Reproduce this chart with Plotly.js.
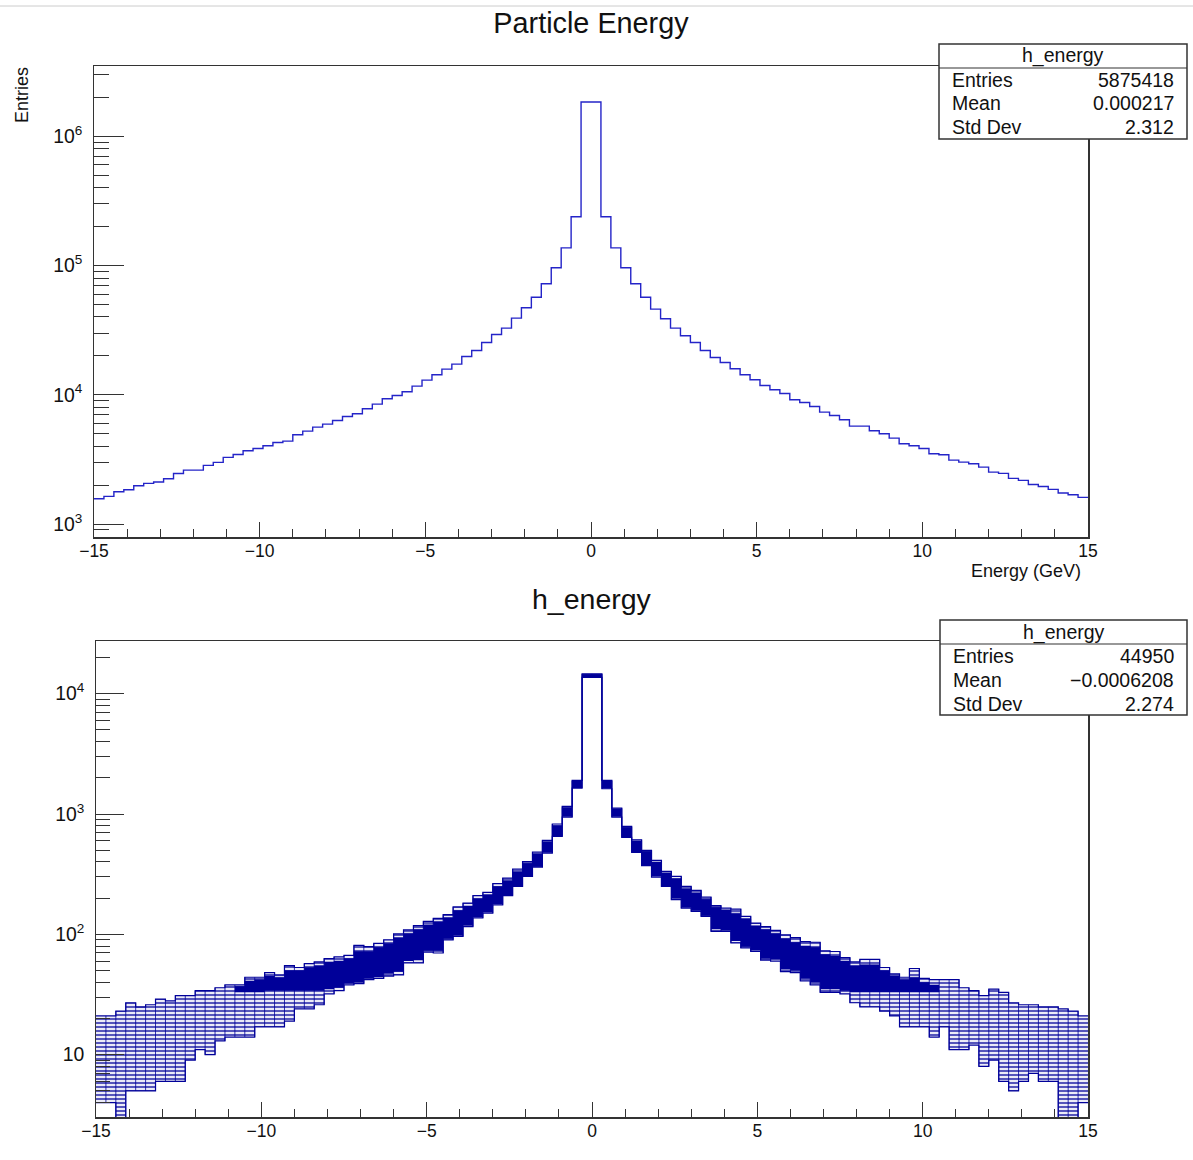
<!DOCTYPE html>
<html>
<head>
<meta charset="utf-8">
<script src="https://cdn.plot.ly/plotly-3.0.1.min.js"></script>
<style>
  html, body { margin: 0; padding: 0; background: #ffffff; }
  #chart { width: 1193px; height: 1160px; }
</style>
</head>
<body>
<div id="chart"></div>
<script>
// ---------------- DATA ----------------
// Binning shared by both histograms (100 bins from -15 to 15 GeV)
const nBins = 100;
const xMin = -15;
const xMax = 15;

// Top panel: "Particle Energy" (h_energy, all events)
const energyCounts = [
  1570, 1637, 1778, 1842, 1978, 2063, 2113, 2241, 2464, 2616,
  2616, 2842, 2999, 3278, 3456, 3690, 3846, 4034, 4280, 4384,
  4906, 5238, 5623, 5933, 6332, 6800, 7131, 7795, 8470, 9314,
  9881, 10549, 11670, 12985, 14279, 15790, 17265, 19790, 22020, 25390,
  29280, 32770, 39150, 47080, 56750, 72280, 95940, 136800, 238200, 1837000,
  1837000, 238200, 136800, 95940, 72280, 56750, 45970, 38690, 32770, 28590,
  25390, 22020, 19440, 17780, 15880, 14280, 13060, 11810, 10930, 10240,
  9148, 8723, 8125, 7345, 6922, 6408, 5723, 5723, 5268, 4993,
  4624, 4180, 4034, 3846, 3498, 3437, 3125, 3016, 2928, 2759,
  2524, 2465, 2255, 2176, 2026, 1955, 1854, 1737, 1686, 1608
];

// Bottom panel: many overlaid h_energy histograms – per-bin spread
const subLow = [
  4, 4, 3, 5, 5, 5, 6, 6, 6, 9,
  11, 10, 13, 14, 14, 14, 17, 17, 17, 19,
  24, 24, 26, 32, 34, 38, 39, 42, 43, 45,
  46, 58, 58, 71, 70, 90, 96, 116, 137, 150,
  176, 210, 250, 303, 362, 474, 652, 944, 1644, 13650,
  13650, 1622, 944, 639, 480, 372, 299, 250, 194, 165,
  155, 141, 106, 106, 85, 77, 72, 61, 60, 49,
  48, 41, 38, 33, 33, 32, 27, 25, 25, 23,
  21, 17, 17, 17, 14, 17, 11, 11, 12, 8,
  9, 6, 5, 6, 7, 6, 6, 3, 3, 4
];
const subHigh = [
  21, 21, 23, 27, 25, 26, 29, 28, 31, 31,
  34, 34, 36, 38, 38, 44, 44, 48, 46, 55,
  53, 57, 59, 63, 65, 67, 81, 79, 84, 90,
  101, 109, 118, 128, 136, 146, 169, 182, 210, 223,
  264, 294, 349, 403, 483, 604, 826, 1156, 1901, 14600,
  14600, 1904, 1121, 789, 611, 499, 412, 334, 303, 250,
  232, 204, 173, 165, 162, 141, 124, 116, 108, 99,
  94, 87, 86, 73, 72, 64, 59, 62, 62, 53,
  47, 44, 52, 43, 42, 42, 42, 36, 34, 31,
  35, 33, 27, 26, 26, 25, 25, 24, 23, 21
];
// Dense (visually solid) core of the overlaid histograms
const coreLow = [
  null, null, null, null, null, null, null, null, null, null,
  null, null, null, null, 33, 33, 33, 34, 34, 34,
  34, 34, 34, 35, 36, 39, 40, 43, 44, 47,
  49, 60, 61, 73, 73, 92, 98, 118, 139, 152,
  178, 212, 252, 305, 365, 476, 655, 948, 1648, 13680,
  13680, 1630, 948, 642, 483, 375, 302, 252, 200, 168,
  158, 143, 110, 108, 88, 79, 74, 63, 62, 51,
  50, 43, 40, 35, 35, 34, 33, 33, 33, 33,
  33, 33, 33, 33, 33, null, null, null, null, null,
  null, null, null, null, null, null, null, null, null, null
];
const coreHigh = [
  null, null, null, null, null, null, null, null, null, null,
  null, null, null, null, 37, 41, 42, 45, 44, 50,
  50, 53, 55, 59, 60, 63, 72, 72, 78, 84,
  94, 102, 110, 120, 128, 138, 158, 172, 198, 212,
  250, 280, 330, 390, 470, 590, 805, 1130, 1880, 14500,
  14500, 1880, 1105, 778, 600, 490, 400, 325, 290, 240,
  222, 196, 168, 160, 150, 134, 118, 110, 102, 92,
  86, 80, 78, 68, 66, 60, 55, 56, 56, 50,
  45, 42, 44, 40, 38, null, null, null, null, null,
  null, null, null, null, null, null, null, null, null, null
];

// Stats boxes
const statsTop = { name: 'h_energy', labels: ['Entries', 'Mean', 'Std Dev'], values: ['5875418', '0.000217', '2.312'] };
const statsBottom = { name: 'h_energy', labels: ['Entries', 'Mean', 'Std Dev'], values: ['44950', '\u22120.0006208', '2.274'] };

// ---------------- HELPERS ----------------
const W = 1193, H = 1160;
const px = x => x / W;
const py = y => 1 - y / H;
const binW = (xMax - xMin) / nBins;
const edges = [];
for (let i = 0; i <= nBins; i++) edges.push(+(xMin + i * binW).toFixed(6));

function stepTrace(vals, i0, i1, xa, ya, extra) {
  const xs = [], ys = [];
  for (let i = i0; i <= i1; i++) { xs.push(edges[i]); ys.push(vals[i]); }
  xs.push(edges[i1 + 1]); ys.push(vals[i1]);
  return Object.assign({ type: 'scatter', mode: 'lines', x: xs, y: ys, xaxis: xa, yaxis: ya,
    line: { shape: 'hv', width: 1, color: '#000099' }, hoverinfo: 'skip', showlegend: false }, extra || {});
}

const FONT = 'Liberation Sans, Arial, Helvetica, sans-serif';
const AX = '#333333';
const BLUE = '#000099';

// ---------------- TRACES ----------------
const traces = [];
// top histogram
traces.push(stepTrace(energyCounts, 0, nBins - 1, 'x', 'y', { line: { shape: 'hv', width: 1.4, color: '#2424c8' } }));

// bottom: sparse band (horizontal-line texture, like many integer-level step lines)
traces.push(stepTrace(subLow, 0, nBins - 1, 'x2', 'y2', { line: { shape: 'hv', width: 0, color: 'rgba(0,0,0,0)' } }));
traces.push(stepTrace(subHigh, 0, nBins - 1, 'x2', 'y2', {
  line: { shape: 'hv', width: 0, color: 'rgba(0,0,0,0)' },
  fill: 'tonexty', fillcolor: 'rgba(0,0,153,0.10)',
  fillpattern: { shape: '-', fgcolor: BLUE, bgcolor: 'rgba(0,0,153,0.08)', size: 4, solidity: 0.32 }
}));

// vertical bin-edge segments spanning the band
{
  const xs = [], ys = [];
  for (let i = 0; i < nBins - 1; i++) {
    const lo = Math.min(subLow[i], subLow[i + 1]);
    const hi = Math.max(subHigh[i], subHigh[i + 1]);
    xs.push(edges[i + 1], edges[i + 1], null);
    ys.push(lo, hi, null);
  }
  traces.push({ type: 'scatter', mode: 'lines', x: xs, y: ys, xaxis: 'x2', yaxis: 'y2',
    line: { width: 1, color: 'rgba(0,0,153,0.8)' }, hoverinfo: 'skip', showlegend: false });
}

// dense core
{
  let a = coreLow.findIndex(v => v !== null);
  let b = coreLow.length - 1 - [...coreLow].reverse().findIndex(v => v !== null);
  traces.push(stepTrace(coreLow, a, b, 'x2', 'y2', { line: { shape: 'hv', width: 0, color: 'rgba(0,0,0,0)' } }));
  traces.push(stepTrace(coreHigh, a, b, 'x2', 'y2', { line: { shape: 'hv', width: 0.5, color: BLUE }, fill: 'tonexty', fillcolor: BLUE }));
}
// outer outlines of the overlaid histograms
traces.push(stepTrace(subLow, 0, nBins - 1, 'x2', 'y2', { line: { shape: 'hv', width: 1.2, color: BLUE } }));
traces.push(stepTrace(subHigh, 0, nBins - 1, 'x2', 'y2', { line: { shape: 'hv', width: 1.2, color: BLUE } }));

// ---------------- LAYOUT ----------------
function xAxis(domain, anchor) {
  return {
    domain: domain, anchor: anchor, range: [xMin, xMax], autorange: false,
    tick0: 0, dtick: 5, ticks: 'inside', ticklen: 15, tickwidth: 1, tickcolor: AX,
    minor: { ticks: 'inside', ticklen: 8, dtick: 1, tickwidth: 1, tickcolor: AX },
    showline: true, mirror: true, linecolor: AX, linewidth: 1.5,
    showgrid: false, zeroline: false, automargin: false, fixedrange: true,
    ticklabelstandoff: -3,
    tickfont: { family: FONT, size: 17.5, color: '#111' }
  };
}
function yAxis(domain, anchor, range, tlen) {
  return {
    domain: domain, anchor: anchor, type: 'log', range: range, autorange: false,
    dtick: 1, exponentformat: 'power', ticks: 'inside', ticklen: tlen, tickwidth: 1, tickcolor: AX,
    minor: { ticks: 'inside', ticklen: Math.round(tlen / 2), dtick: 'D1', tickwidth: 1, tickcolor: AX },
    showline: true, mirror: true, linecolor: AX, linewidth: 1.5,
    showgrid: false, zeroline: false, automargin: false, fixedrange: true,
    ticklabelstandoff: 7,
    tickfont: { family: FONT, size: 15.5, color: '#111' }
  };
}

const shapes = [
  { type: 'line', xref: 'paper', yref: 'paper', x0: 0, x1: 1, y0: py(6), y1: py(6), line: { color: '#cccccc', width: 1 } }
];
const annotations = [];

function statsBox(s, x0, x1, y0, yDiv, y1, rows) {
  shapes.push({ type: 'rect', xref: 'paper', yref: 'paper', x0: px(x0), x1: px(x1), y0: py(y1), y1: py(y0),
    fillcolor: '#ffffff', line: { color: '#333333', width: 1.5 }, layer: 'above' });
  shapes.push({ type: 'line', xref: 'paper', yref: 'paper', x0: px(x0), x1: px(x1), y0: py(yDiv), y1: py(yDiv),
    line: { color: '#333333', width: 1.2 }, layer: 'above' });
  annotations.push({ xref: 'paper', yref: 'paper', x: px((x0 + x1) / 2), y: py((y0 + yDiv) / 2), text: s.name,
    showarrow: false, xanchor: 'center', yanchor: 'middle', font: { family: FONT, size: 19.5, color: '#111' } });
  for (let i = 0; i < s.labels.length; i++) {
    annotations.push({ xref: 'paper', yref: 'paper', x: px(x0 + 11), y: py(rows[i]), text: s.labels[i],
      showarrow: false, xanchor: 'left', yanchor: 'middle', font: { family: FONT, size: 19.5, color: '#111' } });
    annotations.push({ xref: 'paper', yref: 'paper', x: px(x1 - 11), y: py(rows[i]), text: s.values[i],
      showarrow: false, xanchor: 'right', yanchor: 'middle', font: { family: FONT, size: 19.5, color: '#111' } });
  }
}
statsBox(statsTop, 939, 1187, 44, 68, 139, [80, 103, 127]);
statsBox(statsBottom, 940, 1187, 620, 644, 715, [656, 680, 704]);

// panel titles & axis titles
annotations.push({ xref: 'paper', yref: 'paper', x: px(592), y: py(599), text: 'h_energy', showarrow: false,
  xanchor: 'center', yanchor: 'middle', font: { family: FONT, size: 28.5, color: '#111' } });
annotations.push({ xref: 'paper', yref: 'paper', x: px(22), y: py(65), text: 'Entries', showarrow: false,
  textangle: -90, xanchor: 'center', yanchor: 'top', font: { family: FONT, size: 18, color: '#111' } });
annotations.push({ xref: 'paper', yref: 'paper', x: px(1083), y: py(571), text: 'Energy (GeV)', showarrow: false,
  xanchor: 'right', yanchor: 'middle', font: { family: FONT, size: 18, color: '#111' } });

const layout = {
  width: W, height: H,
  margin: { l: 0, r: 0, t: 0, b: 0, pad: 0 },
  paper_bgcolor: '#ffffff', plot_bgcolor: '#ffffff',
  showlegend: false,
  title: { text: 'Particle Energy', x: px(591), xanchor: 'center', xref: 'paper', y: py(23), yref: 'container', yanchor: 'middle',
    font: { family: FONT, size: 28.8, color: '#111' } },
  xaxis: xAxis([px(94), px(1088)], 'y'),
  yaxis: yAxis([py(537), py(66)], 'x', [2.90, 6.543], 30),
  xaxis2: xAxis([px(96), px(1088)], 'y2'),
  yaxis2: yAxis([py(1117), py(641)], 'x2', [0.482, 4.438], 28),
  shapes: shapes,
  annotations: annotations
};

Plotly.newPlot('chart', traces, layout, { staticPlot: true, displayModeBar: false });
</script>
</body>
</html>
